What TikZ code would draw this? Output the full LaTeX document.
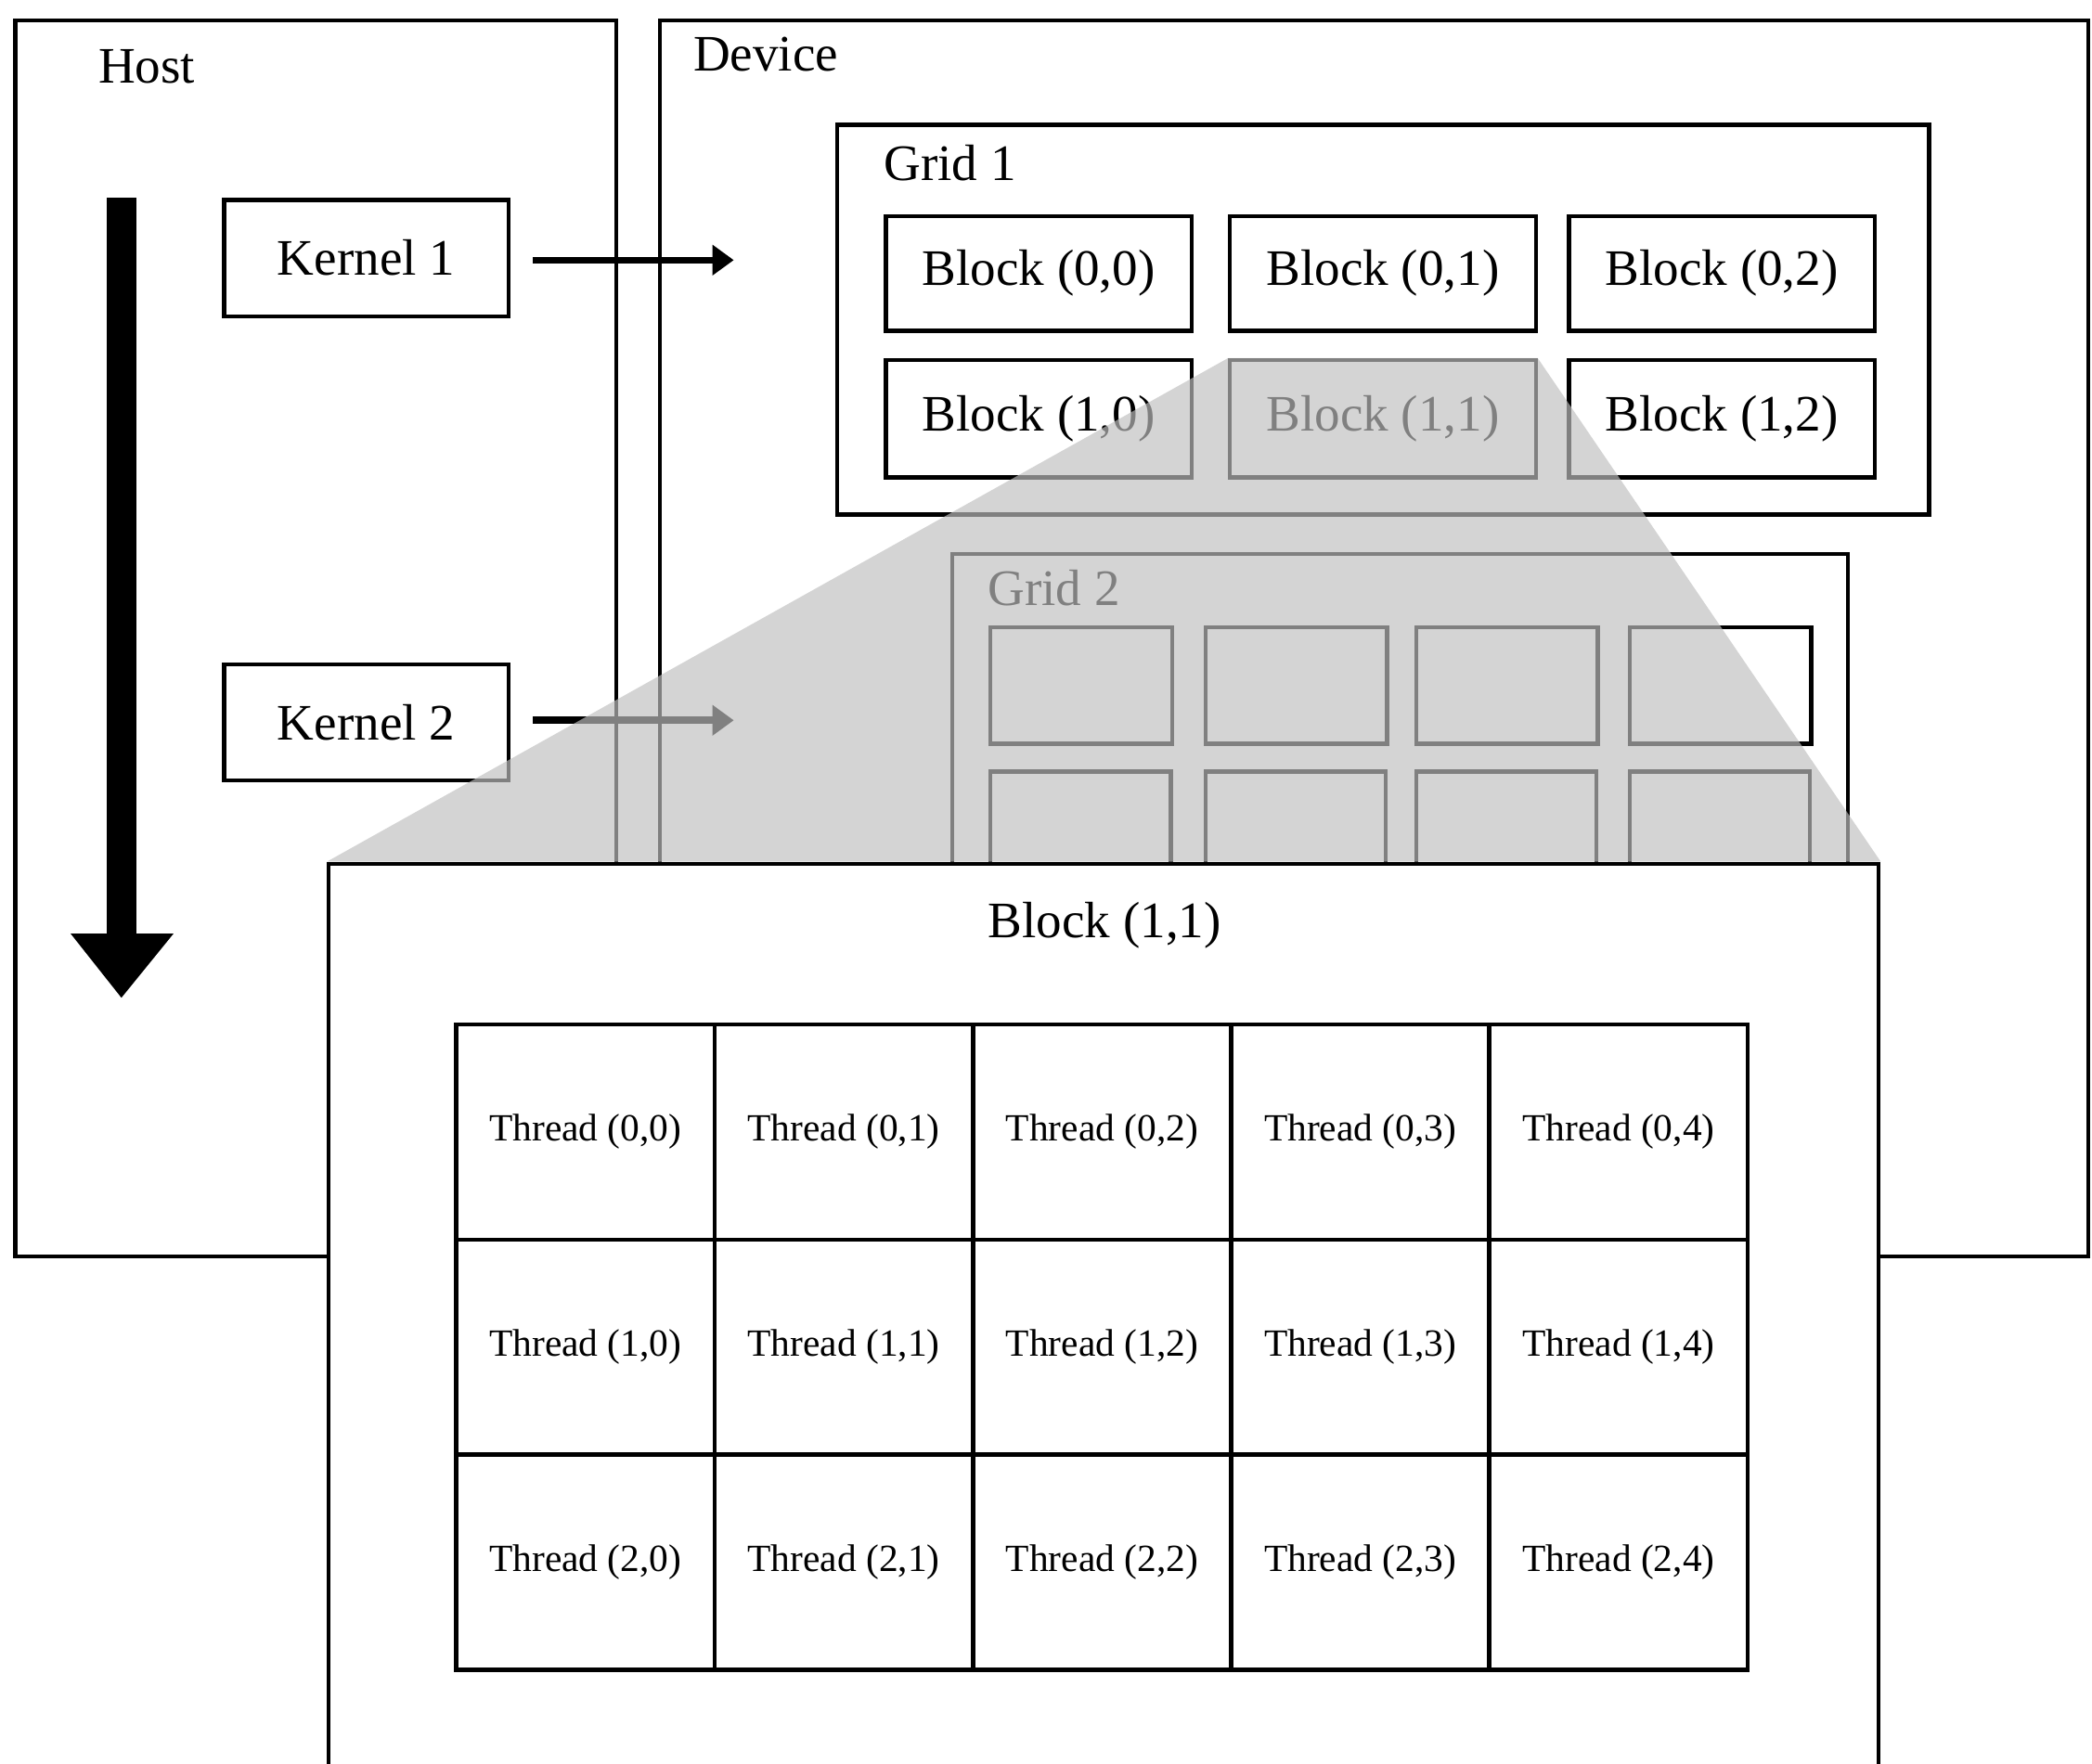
\documentclass[tikz,border=0pt]{standalone}
\usepackage{fontspec}
\setmainfont{Liberation Serif}
\usetikzlibrary{arrows.meta}
\begin{document}
\begin{tikzpicture}[x=0.01cm,y=-0.01cm,
  box/.style={draw=black,line width=0.85pt,rectangle,inner sep=0pt,anchor=north west},
  lbl/.style={inner sep=0pt,font=\fontsize{10.9}{13}\selectfont},
  thr/.style={draw=black,line width=0.9pt,inner sep=0pt,minimum width=1.936cm,minimum height=1.613cm,font=\fontsize{8.2}{10}\selectfont},
  karrow/.style={line width=1.5pt,-{Triangle[length=0.16cm,width=0.22cm]}},
  zoomfill/.style={fill=black!25,opacity=0.67},
]
\useasboundingbox (0,0) rectangle (1568,1322);
\clip (0,0) rectangle (1568,1322);

% Host
\node[box,minimum width=4.5cm,minimum height=9.26cm] (host) at (10,14) {};
\node[lbl] (hostlbl) at (110,50) {Host};
\fill (80,148) rectangle (102,702);
\fill (53,700) -- (130,700) -- (91,748) -- cycle;
\node[box,minimum width=2.13cm,minimum height=0.87cm,anchor=center,font=\fontsize{10.9}{13}\selectfont] (k1) at (274.5,193.5) {Kernel 1};
\node[box,minimum width=2.13cm,minimum height=0.87cm,anchor=center,font=\fontsize{10.9}{13}\selectfont] (k2) at (274.5,541.5) {Kernel 2};

% Device
\node[box,minimum width=10.70cm,minimum height=9.26cm] (dev) at (493,14) {};
\node[lbl] (devlbl) at (574,41) {Device};

% Grid 1
\node[box,minimum width=8.18cm,minimum height=2.92cm] (g1) at (626,92) {};
\node[lbl] (g1lbl) at (712,122) {Grid 1};
\foreach \r/\yy/\hh in {0/205/0.86,1/314/0.88}
  \foreach \c/\xx in {0/778.5,1/1036.5,2/1290.5}
    \node[box,anchor=center,minimum width=2.29cm,minimum height=\hh cm,font=\fontsize{10.9}{13}\selectfont] (b\r\c) at (\xx,\yy) {Block (\r,\c)};

% Grid 2
\node[box,minimum width=6.71cm,minimum height=3.2cm] (g2) at (712,414) {};
\node[lbl] (g2lbl) at (790,441) {Grid 2};
\foreach \c/\xx in {0/741,1/902,2/1060,3/1220}{
  \node[box,minimum width=1.36cm,minimum height=0.87cm] (s0\c) at (\xx,469) {};
  \node[box,minimum width=1.35cm,minimum height=1.5cm] (s1\c) at (\xx,577) {};
}

% kernel launch arrows
\coordinate (a1end) at (550,195);
\coordinate (a2end) at (550,540);
\draw[karrow] ([xshift=0.17cm]k1.east |- a1end) -- (a1end);
\draw[karrow] ([xshift=0.17cm]k2.east |- a2end) -- (a2end);

% Zoom-in projection
\node[box,fill=white,minimum width=11.61cm,minimum height=7.2cm] (big) at (245,646) {};
\fill[zoomfill] (b11.north west) -- (b11.north east) -- (big.north east) -- (big.north west) -- cycle;
\node[box,fill=white,minimum width=11.61cm,minimum height=7.2cm] (big) at (245,646) {};
\node[lbl] (biglbl) at (828,694) {Block (1,1)};

\foreach \r in {0,1,2}
  \foreach \c in {0,...,4}
    \node[thr] (t\r\c) at ({342+193.6*(\c+0.5)},{768+161.33*(\r+0.5)}) {Thread (\r,\c)};
\end{tikzpicture}
\end{document}
